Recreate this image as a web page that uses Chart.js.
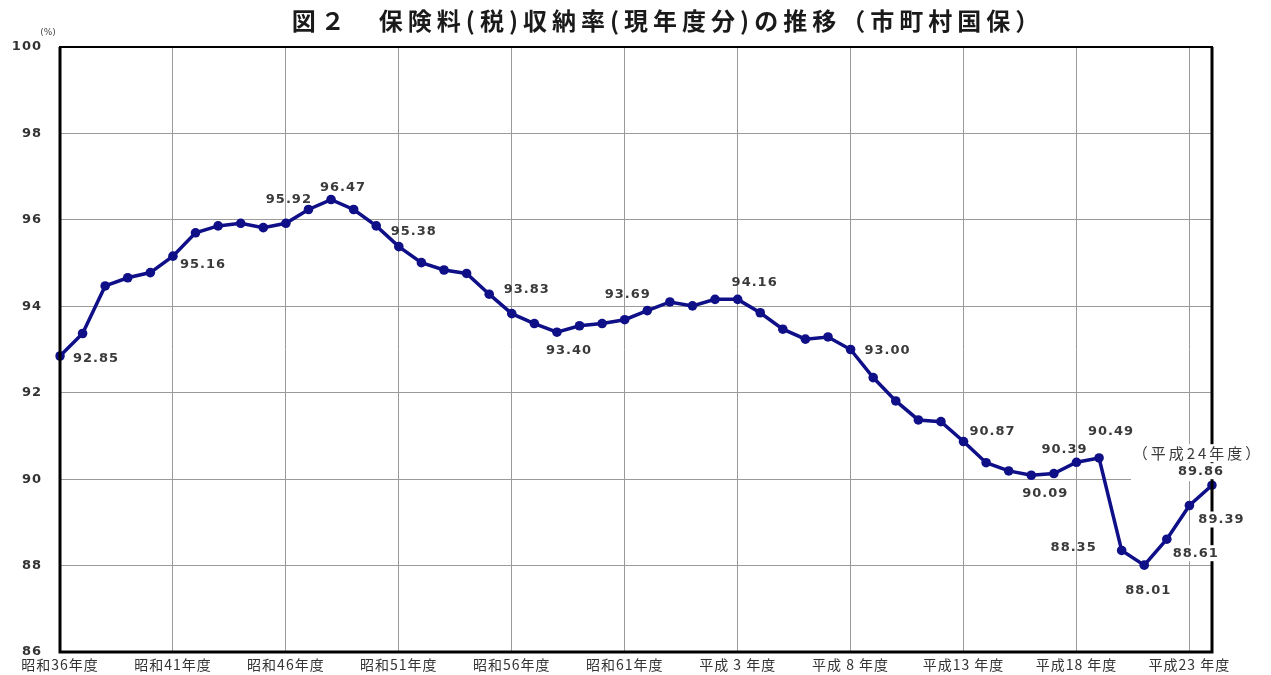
<!DOCTYPE html>
<html lang="ja">
<head>
<meta charset="utf-8">
<title>保険料(税)収納率の推移</title>
<script src="https://cdn.jsdelivr.net/npm/chart.js@4.4.1/dist/chart.umd.min.js"></script>
<style>
  html, body { margin: 0; padding: 0; background: #fff; }
  #wrap { width: 1271px; height: 675px; }
</style>
</head>
<body>
<div id="wrap"><canvas id="chart"></canvas></div>
<script>
// 年度 (昭和36年度〜平成24年度)
const years = [
    '昭和36年度', '昭和37年度', '昭和38年度', '昭和39年度', '昭和40年度',
    '昭和41年度', '昭和42年度', '昭和43年度', '昭和44年度', '昭和45年度',
    '昭和46年度', '昭和47年度', '昭和48年度', '昭和49年度', '昭和50年度',
    '昭和51年度', '昭和52年度', '昭和53年度', '昭和54年度', '昭和55年度',
    '昭和56年度', '昭和57年度', '昭和58年度', '昭和59年度', '昭和60年度',
    '昭和61年度', '昭和62年度', '昭和63年度', '平成元年度', '平成2年度',
    '平成3年度', '平成4年度', '平成5年度', '平成6年度', '平成7年度',
    '平成8年度', '平成9年度', '平成10年度', '平成11年度', '平成12年度',
    '平成13年度', '平成14年度', '平成15年度', '平成16年度', '平成17年度',
    '平成18年度', '平成19年度', '平成20年度', '平成21年度', '平成22年度',
    '平成23年度', '平成24年度'
];

// 収納率 (%)
const rates = [
    92.85, 93.37, 94.47, 94.66, 94.78,
    95.16, 95.70, 95.86, 95.92, 95.82,
    95.92, 96.24, 96.47, 96.24, 95.86,
    95.38, 95.01, 94.84, 94.76, 94.28,
    93.83, 93.60, 93.40, 93.55, 93.60,
    93.69, 93.90, 94.10, 94.01, 94.16,
    94.16, 93.85, 93.47, 93.24, 93.29,
    93.00, 92.35, 91.81, 91.37, 91.33,
    90.87, 90.38, 90.19, 90.09, 90.13,
    90.39, 90.49, 88.35, 88.01, 88.61,
    89.39, 89.86
];

// 目盛りに出す年度 (5年ごと)
const tickLabels = [
    '昭和36年度', '昭和41年度', '昭和46年度', '昭和51年度', '昭和56年度',
    '昭和61年度', '平成 3 年度', '平成 8 年度', '平成13 年度', '平成18 年度',
    '平成23 年度'
];

// 数値ラベルを付ける点
const labeledIdx = [0, 5, 10, 12, 15, 20, 22, 25, 30, 35, 40, 43, 45, 46, 47, 48, 49, 50, 51];

// ラベルの位置 (点からのずれ dx, dy, 白地)
const labelPos = [
    [36, 3, false], [30, 8, false], [3, -24, false], [12, -12, false],
    [15, -15, false], [15, -24, false], [12, 18, false], [3, -25, false],
    [17, -17, false], [37, 1, false], [29, -10, false], [14, 18, false],
    [-12, -13, false], [12, -26, false], [-48, -3, false], [4, 25, false],
    [29, 14, true], [32, 14, true], [-11, -14, true]
];

const lineColor = '#0f0f88';

const decor = {
    id: 'decor',
    beforeDraw(chart) {
        chart.ctx.letterSpacing = '1px';
    },
    afterDraw(chart) {
        const { ctx, chartArea: a } = chart;
        const pts = chart.getDatasetMeta(0).data;
        const y90 = chart.scales.y.getPixelForValue(90);
        ctx.save();

        // 90% line stops short of the last label
        ctx.fillStyle = '#fff';
        ctx.fillRect(1131, y90 - 2, a.right - 1131, 4);

        // frame
        ctx.strokeStyle = '#000';
        ctx.lineWidth = 2;
        ctx.strokeRect(a.left, a.top, a.right - a.left, a.bottom - a.top);
        ctx.lineWidth = 3;
        ctx.beginPath();
        ctx.moveTo(a.left, a.top);
        ctx.lineTo(a.left, a.bottom);
        ctx.lineTo(a.right, a.bottom);
        ctx.lineTo(a.right, a.top);
        ctx.stroke();

        // value labels
        ctx.textAlign = 'center';
        ctx.textBaseline = 'middle';
        const last = pts[pts.length - 1];
        ctx.font = '15px "Noto Sans CJK JP"';
        ctx.letterSpacing = '3px';
        const note = '（平成24年度）';
        const nw = ctx.measureText(note).width;
        ctx.fillStyle = '#fff';
        ctx.fillRect(last.x - 14 - nw / 2, last.y - 41, nw, 18);
        ctx.fillStyle = '#3a3a3a';
        ctx.fillText(note, last.x - 14, last.y - 32);

        ctx.font = 'bold 13px "DejaVu Sans"';
        ctx.letterSpacing = '1px';
        labeledIdx.forEach((idx, k) => {
            const p = pts[idx];
            const [dx, dy, bg] = labelPos[k];
            const txt = rates[idx].toFixed(2);
            const x = p.x + dx, y = p.y + dy;
            if (bg) {
                const w = ctx.measureText(txt).width;
                ctx.fillStyle = '#fff';
                ctx.fillRect(x - w / 2 - 2, y - 8, w + 4, 16);
            }
            ctx.fillStyle = '#3a3a3a';
            ctx.fillText(txt, x, y);
        });

        // title
        ctx.fillStyle = '#1a1a1a';
        ctx.font = 'bold 24px "Noto Sans CJK JP"';
        ctx.letterSpacing = '5px';
        ctx.fillText('図２　保険料(税)収納率(現年度分)の推移（市町村国保）', 668, 21);

        // unit
        ctx.font = '9px "DejaVu Sans"';
        ctx.letterSpacing = '0px';
        ctx.fillStyle = '#444';
        ctx.fillText('(%)', 48, 33);
        ctx.restore();
    }
};

new Chart(document.getElementById('chart'), {
    type: 'line',
    data: {
        labels: years,
        datasets: [{
            data: rates,
            borderColor: lineColor,
            backgroundColor: lineColor,
            borderWidth: 3.5,
            pointRadius: 4.8,
            pointBackgroundColor: lineColor,
            pointBorderWidth: 0,
            tension: 0,
            fill: false
        }]
    },
    options: {
        responsive: true,
        maintainAspectRatio: false,
        animation: false,
        events: [],
        layout: { padding: { top: 47, right: 59, left: 0, bottom: 0 } },
        plugins: {
            legend: { display: false },
            tooltip: { enabled: false }
        },
        scales: {
            x: {
                offset: false,
                afterFit: s => { s.height = 23; },
                border: { display: false },
                grid: {
                    color: c => (c.index % 5 === 0 ? '#9a9a9a' : 'rgba(0,0,0,0)'),
                    lineWidth: 1,
                    drawTicks: false
                },
                ticks: {
                    autoSkip: false,
                    maxRotation: 0,
                    padding: 4,
                    color: '#333',
                    font: { family: '"Noto Sans CJK JP"', size: 14 },
                    callback: (v, i) => (i % 5 === 0 ? tickLabels[i / 5] : '')
                }
            },
            y: {
                min: 86,
                max: 100,
                afterFit: s => { s.width = 60; },
                border: { display: false },
                grid: {
                    color: '#9a9a9a',
                    lineWidth: 1,
                    drawTicks: true,
                    tickLength: 10,
                    tickColor: 'rgba(0,0,0,0)'
                },
                ticks: {
                    stepSize: 2,
                    padding: 8,
                    color: '#333',
                    font: { family: '"DejaVu Sans"', size: 13, weight: 'bold' }
                }
            }
        }
    },
    plugins: [decor]
});
</script>
</body>
</html>
